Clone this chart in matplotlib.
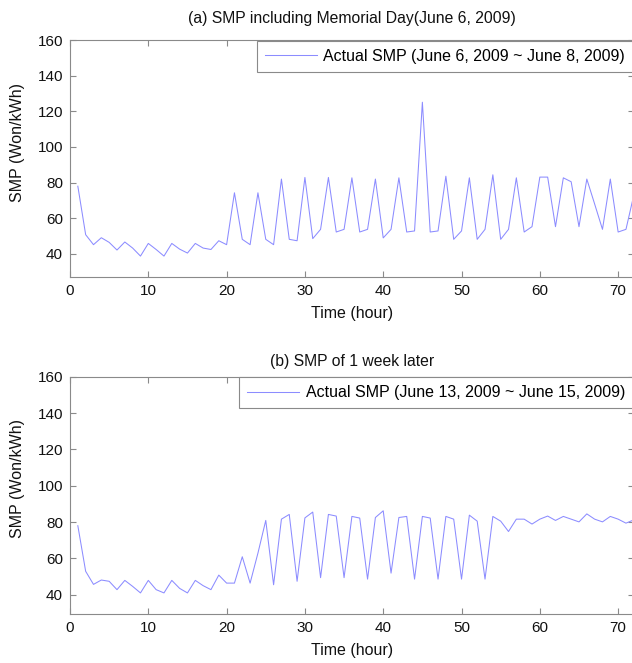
import matplotlib
matplotlib.use("Agg")
import matplotlib.pyplot as plt

hours = list(range(1, 73))

smp_a = [78, 50.8, 45.2, 49.1, 46.5, 42.2, 46.7, 43.3, 38.8, 45.9,
         42.5, 38.8, 45.9, 42.7, 40.5, 45.9, 43.3, 42.5, 47.4, 45.2,
         74.3, 48.2, 45.2, 74.3, 48.2, 45.2, 82.0, 48.2, 47.4, 82.9,
         48.6, 53.8, 82.9, 52.3, 53.8, 82.7, 52.3, 53.8, 82.0, 49.0,
         53.8, 82.7, 52.3, 52.9, 125.1, 52.3, 52.9, 83.6, 48.2, 52.9,
         82.7, 48.2, 53.8, 84.4, 48.2, 53.8, 82.7, 52.3, 55.3, 83.1,
         83.1, 55.3, 82.7, 80.5, 55.3, 82.0, 68.0, 53.8, 82.0, 52.3,
         53.8, 73.0]

smp_b = [78.0, 52.9, 45.7, 48.1, 47.4, 42.8, 47.9, 44.6, 41.0, 47.9,
         42.8, 41.0, 47.9, 43.5, 41.0, 47.9, 45.0, 42.8, 50.8, 46.4,
         46.4, 60.9, 46.4, 62.9, 80.9, 45.5, 81.6, 84.2, 47.4, 82.3,
         85.5, 49.4, 84.2, 83.3, 49.4, 83.1, 82.2, 48.6, 82.5, 86.2,
         51.9, 82.5, 83.1, 48.6, 83.1, 82.2, 48.6, 83.1, 81.6, 48.6,
         83.8, 80.5, 48.6, 83.1, 80.5, 74.8, 81.6, 81.6, 78.9, 81.6,
         83.3, 80.9, 83.1, 81.6, 80.1, 84.5, 81.6, 80.1, 83.1, 81.6,
         79.4, 81.2]

titles = ["(a) SMP including Memorial Day(June 6, 2009)", "(b) SMP of 1 week later"]
legend_labels = ["Actual SMP (June 6, 2009 ~ June 8, 2009)",
                 "Actual SMP (June 13, 2009 ~ June 15, 2009)"]
xticks = [0, 10, 20, 30, 40, 50, 60, 70]
yticks = [40, 60, 80, 100, 120, 140, 160]

plt.rcParams['font.family'] = ['Liberation Sans', 'DejaVu Sans']

W, H = 632, 663
fig = plt.figure(figsize=(W / 100, H / 100), dpi=100)

line_color = '#8c8cff'
spine_color = '#8a8a8a'
text_color = '#111111'

# axes pixel boxes: (left, top, right, bottom)
boxes = [(70, 40, 633.8, 277.3), (70, 376.7, 633.8, 614)]
ylims = [(26.9, 160), (29.4, 160)]
title_y = [18, 362]

for i, (series, box) in enumerate(zip([smp_a, smp_b], boxes)):
    l, t, r, b = box
    ax = fig.add_axes([l / W, 1 - b / H, (r - l) / W, (b - t) / H])
    ax.plot(hours, series, color=line_color, linewidth=0.75, label=legend_labels[i])
    ax.set_xlim(0, 72)
    ax.set_ylim(*ylims[i])
    ax.set_xticks(xticks)
    ax.set_yticks(yticks)
    ax.tick_params(direction='in', length=4, width=0.8, color=spine_color,
                   top=True, right=True, labelsize=11, labelcolor=text_color, pad=5)
    for s in ax.spines.values():
        s.set_color(spine_color)
        s.set_linewidth(0.8)
    ax.set_xlabel("Time (hour)", fontsize=11.5, color=text_color, labelpad=5.5)
    ax.set_ylabel("SMP (Won/kWh)", fontsize=11.5, color=text_color)
    ax.yaxis.set_label_coords(-0.080, 0.57)
    leg = ax.legend(loc='upper right', bbox_to_anchor=(1, 1), borderaxespad=0.05,
                    fancybox=False, edgecolor=spine_color, fontsize=11.5,
                    handlelength=3.25, handletextpad=0.4, borderpad=0.5,
                    framealpha=1)
    leg.get_frame().set_linewidth(0.8)
    fig.text((l + r) / 2 / W, 1 - title_y[i] / H, titles[i], ha='center', va='center',
             fontsize=11.3, color=text_color)

fig.savefig("out.png", dpi=100)
